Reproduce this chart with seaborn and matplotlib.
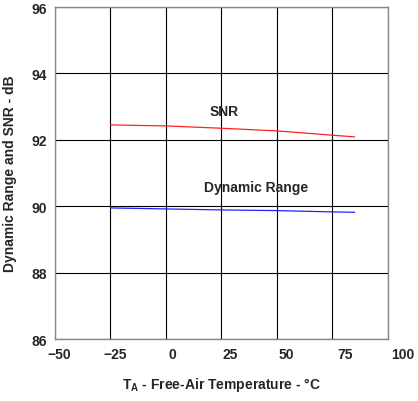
import numpy as np
import pandas as pd
import matplotlib
matplotlib.use("Agg")
import matplotlib.pyplot as plt
import matplotlib.transforms as mtransforms
import seaborn as sns

# Data
temp_c = [-25, 0, 25, 50, 75, 85]
snr_db = [92.45, 92.42, 92.35, 92.27, 92.14, 92.09]
dyn_range_db = [89.95, 89.92, 89.89, 89.87, 89.83, 89.82]

x_ticks = [-50, -25, 0, 25, 50, 75, 100]
x_tick_labels = ["\u221250", "\u221225", "0", "25", "50", "75", "100"]
y_ticks = [86, 88, 90, 92, 94, 96]

df = pd.DataFrame({
    "temp": temp_c * 2,
    "value": snr_db + dyn_range_db,
    "series": ["SNR"] * len(temp_c) + ["Dynamic Range"] * len(temp_c),
})

sns.set_style("white")
plt.rcParams['font.family'] = ['Liberation Sans', 'DejaVu Sans']
plt.rcParams['mathtext.fontset'] = 'custom'
plt.rcParams['mathtext.bf'] = 'Liberation Sans:bold'

fig = plt.figure(figsize=(4.18, 4.02), dpi=100)
ax = fig.add_axes([0.1316, 0.154, 0.7964, 0.826])

sns.lineplot(data=df, x="temp", y="value", hue="series",
             palette={"SNR": "#ff2020", "Dynamic Range": "#2020ff"},
             linewidth=0.9, legend=False, ax=ax)

ax.set_xlim(-50, 100)
ax.set_ylim(86, 96)
ax.set_xticks(x_ticks)
ax.set_yticks(y_ticks)
ax.set_xticklabels(x_tick_labels, fontsize=10, fontweight='bold')
ax.set_yticklabels([str(v) for v in y_ticks], fontsize=10, fontweight='bold')
ax.tick_params(axis='both', length=0, pad=6)
ax.grid(True, color='black', linewidth=0.8)

# the original tick labels drift to the right of their grid lines
shifts = [4, 4.5, 6.5, 8.5, 9.5, 12.5, 14.5]
for lab, dx in zip(ax.get_xticklabels(), shifts):
    lab.set_transform(lab.get_transform() +
                      mtransforms.ScaledTranslation(dx / 100, 0, fig.dpi_scale_trans))

for sp in ax.spines.values():
    sp.set_color('#888888')
    sp.set_linewidth(1.0)

ax.text(26, 92.87, "SNR", ha='center', va='center', fontsize=10, fontweight='bold')
ax.text(40.5, 90.58, "Dynamic Range", ha='center', va='center', fontsize=10, fontweight='bold')

ax.set_xlabel(r"T$_\mathbf{A}$ - Free-Air Temperature - °C", fontsize=10,
              fontweight='bold', labelpad=10)
ax.set_ylabel("Dynamic Range and SNR - dB", fontsize=10, fontweight='bold', labelpad=10)

fig.savefig("out.png", dpi=100)
